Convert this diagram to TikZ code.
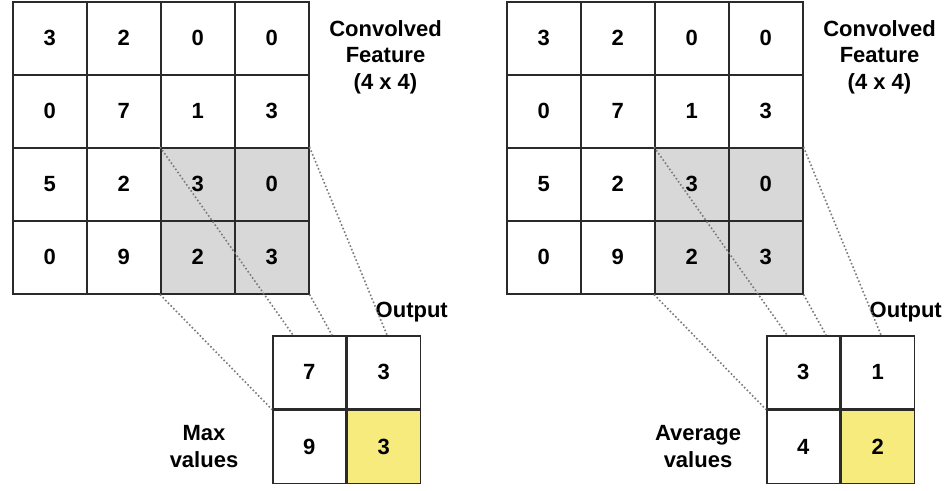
\documentclass[tikz,border=0pt]{standalone}
\usepackage{fontspec}
\setmainfont{Liberation Sans}
\usetikzlibrary{positioning}

\definecolor{gridline}{HTML}{2A2A2A}
\definecolor{poolgray}{HTML}{D8D8D8}
\definecolor{pickyellow}{HTML}{F6EB7C}
\definecolor{guidegray}{HTML}{7A7A7A}

\tikzset{
  cell/.style={draw=gridline, line width=1.5pt, minimum width=74pt, minimum height=73pt,
    inner sep=0pt, anchor=north west, font=\bfseries\fontsize{22}{26}\selectfont},
  outcell/.style={cell, minimum width=73pt},
  guide/.style={guidegray, line width=1.6pt, dash pattern=on 1.6pt off 2.2pt},
  caption/.style={inner sep=0pt, align=center, font=\bfseries\fontsize{22}{26.5}\selectfont}
}

\begin{document}
\begin{tikzpicture}[x=1pt, y=-1pt]
  \useasboundingbox (0,0) rectangle (947,490);
  \foreach \p/\dx/\ta/\tb/\tc/\td/\what in {max/0/7/3/9/3/Max, avg/494/3/1/4/2/Average} {
    % 4x4 feature map, lower right 2x2 block shaded
    \foreach \row [count=\r] in {{3,2,0,0},{0,7,1,3},{5,2,3,0},{0,9,2,3}}
      \foreach \v [count=\c] in \row {
        \pgfmathtruncatemacro\tint{and(\r>2,\c>2)*100}
        \node[cell, fill=poolgray!\tint!white] (\p-\r-\c) at ({\dx+74*\c-62}, {73*\r-72}) {\v};
      }
    \node[caption, anchor=north] (\p-title) at ([xshift=76pt, yshift=-19pt]\p-1-4.north east)
      {Convolved\\Feature\\(4 x 4)};

    % pooled 2x2 output
    \node[outcell] (\p-o-1-1) at ({\dx+272}, 335) {\ta};
    \node[outcell, right=0pt of \p-o-1-1] (\p-o-1-2) {\tb};
    \node[outcell, below=0pt of \p-o-1-1] (\p-o-2-1) {\tc};
    \node[outcell, fill=pickyellow, right=0pt of \p-o-2-1] (\p-o-2-2) {\td};
    \node[caption, above=13pt of \p-o-1-2.north, xshift=28pt] (\p-out) {Output};
    \node[caption] (\p-label) at ([xshift=-68pt]\p-o-2-1.west) {\what\\values};

    % dotted guides from the shaded block
    \coordinate[right=21pt of \p-o-1-1.north west] (\p-in1);
    \coordinate[right=60pt of \p-o-1-1.north west] (\p-in2);
    \coordinate[right=115pt of \p-o-1-1.north west] (\p-in3);
    \draw[guide] (\p-3-3.north west) -- (\p-in1);
    \draw[guide] (\p-3-4.north east) -- (\p-in3);
    \draw[guide] (\p-4-3.south west) -- (\p-o-2-1.north west);
    \draw[guide] (\p-4-4.south east) -- (\p-in2);
  }
\end{tikzpicture}
\end{document}
